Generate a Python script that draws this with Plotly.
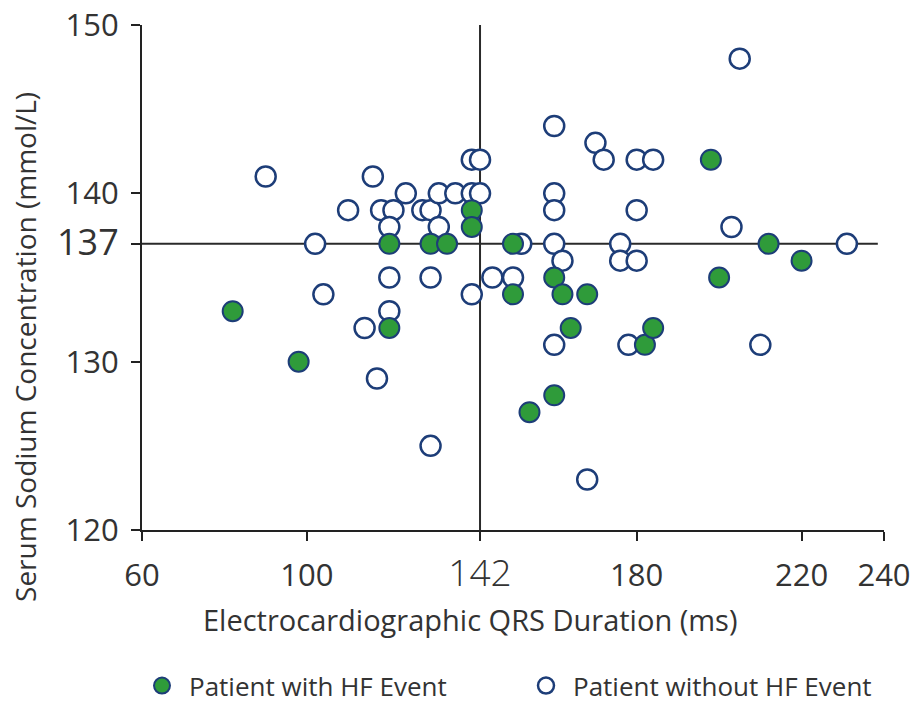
import plotly.graph_objects as go

# Patients with HF event (green, filled)
hf_qrs = [82, 98, 120, 120, 130, 134, 140, 140, 150, 150, 160, 162, 168, 164,
          160, 154, 182, 184, 198, 200, 212, 220]
hf_na = [133, 130, 137, 132, 137, 137, 139, 138, 137, 134, 135, 134, 134, 132,
         128, 127, 131, 132, 142, 135, 137, 136]

# Patients without HF event (open circles)
nohf_qrs = [90, 102, 104, 110, 116, 118, 121, 124, 120, 128, 130, 132, 136, 132,
            140, 142, 140, 142, 120, 130, 145, 150, 140, 120, 114, 117, 130, 152,
            160, 170, 172, 180, 184, 160, 160, 180, 160, 162, 176, 176, 180, 160,
            178, 168, 205, 203, 231, 210]
nohf_na = [141, 137, 134, 139, 141, 139, 139, 140, 138, 139, 139, 140, 140, 138,
           142, 142, 140, 140, 135, 135, 135, 135, 134, 133, 132, 129, 125, 137,
           144, 143, 142, 142, 142, 140, 139, 139, 137, 136, 137, 136, 136, 131,
           131, 123, 148, 138, 137, 131]

x_ticks = [60, 100, 142, 180, 220, 240]
y_ticks = [120, 130, 137, 140, 150]
qrs_cut = 142
na_cut = 137

x_title = "Electrocardiographic QRS Duration (ms)"
y_title = "Serum Sodium Concentration (mmol/L)"
name_hf = "Patient with HF Event"
name_nohf = "Patient without HF Event"

TXT = "#333333"
NAVY = "#1d3d78"
GREEN = "#2f9b3a"
FONT = "Open Sans"
NARROW = "Liberation Sans Narrow, Open Sans"

fig = go.Figure()
fig.add_trace(go.Scatter(
    x=nohf_qrs, y=nohf_na, mode="markers", name=name_nohf, legend="legend2",
    marker=dict(size=20, color="white", line=dict(color=NAVY, width=2.5)),
))
fig.add_trace(go.Scatter(
    x=hf_qrs, y=hf_na, mode="markers", name=name_hf, legend="legend",
    marker=dict(size=20, color=GREEN, line=dict(color=NAVY, width=2)),
))

# cut-off crosshair
fig.add_shape(type="line", x0=qrs_cut, x1=qrs_cut, y0=120, y1=150,
              xref="x", yref="y", layer="below",
              line=dict(color="#2a2a2a", width=2))
fig.add_shape(type="line", x0=60, x1=238.5, y0=na_cut, y1=na_cut,
              xref="x", yref="y", layer="below",
              line=dict(color="#2a2a2a", width=2))

def xlab(v):
    if v == qrs_cut:
        return f"<span style='font-size:37px;font-family:Open Sans;font-weight:300'>{v}</span>"
    return str(v)

def ylab(v):
    if v == na_cut:
        return f"<span style='font-size:36px'>{v}</span>"
    return str(v)

fig.update_xaxes(
    range=[60, 240], tickvals=x_ticks, ticktext=[xlab(v) for v in x_ticks],
    showgrid=False, zeroline=False, showline=True, linecolor="#222", linewidth=2,
    ticks="outside", ticklen=9, tickwidth=2, tickcolor="#222",
    tickfont=dict(family=NARROW, size=31, color=TXT), ticklabelstandoff=8,
)
fig.update_yaxes(
    range=[120, 150], tickvals=y_ticks, ticktext=[ylab(v) for v in y_ticks],
    showgrid=False, zeroline=False, showline=True, linecolor="#222", linewidth=2,
    ticks="outside", ticklen=9, tickwidth=2, tickcolor="#222",
    tickfont=dict(family=FONT, size=31, color=TXT), ticklabelstandoff=6,
)

fig.add_annotation(text=x_title, xref="paper", yref="paper", x=0.442, y=-0.178,
                   xanchor="center", yanchor="middle", showarrow=False,
                   font=dict(family=FONT, size=29, color=TXT))
fig.add_annotation(text=y_title, xref="paper", yref="paper", x=-0.158, y=0.362,
                   xanchor="center", yanchor="middle", textangle=-90, showarrow=False,
                   font=dict(family=FONT, size=28, color=TXT))

leg_common = dict(orientation="h", xref="container", yref="container",
                  y=0.026, yanchor="middle", xanchor="left",
                  font=dict(family=FONT, size=26, color=TXT),
                  itemsizing="trace", itemwidth=44, bgcolor="rgba(0,0,0,0)")

fig.update_layout(
    width=911, height=704,
    margin=dict(l=142, r=27, t=25, b=174, autoexpand=False),
    paper_bgcolor="white", plot_bgcolor="white",
    showlegend=True,
    legend=dict(x=135 / 911, **leg_common),
    legend2=dict(x=519 / 911, **leg_common),
)

fig.write_html("out.html")
